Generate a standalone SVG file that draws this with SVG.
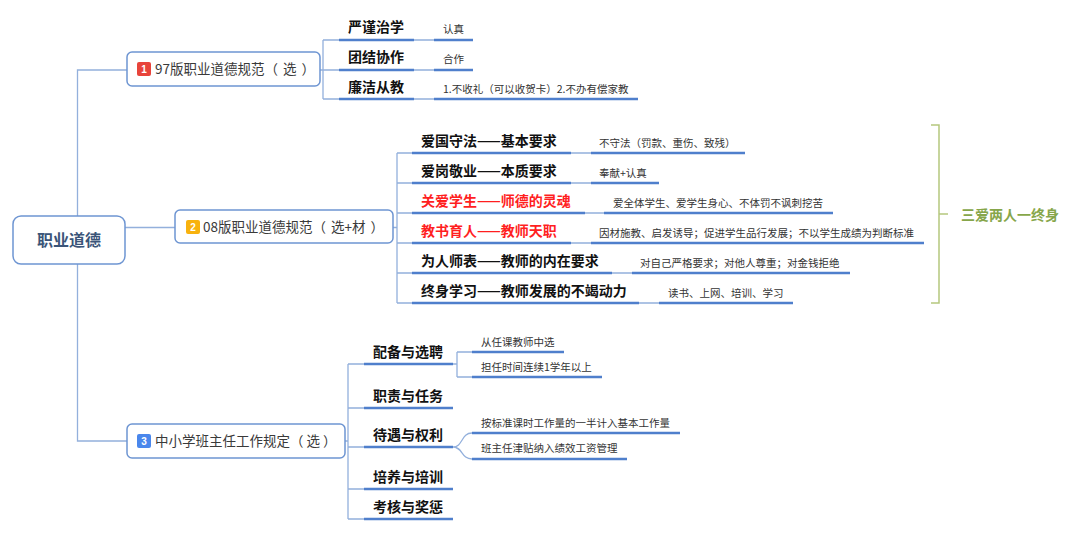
<svg xmlns="http://www.w3.org/2000/svg" width="1080" height="533" viewBox="0 0 1080 533">
<style>
.bg{fill:#fff}
.conn{fill:none;stroke:#93b0dc;stroke-width:1.3}
.ul{fill:none;stroke:#4f7fcc;stroke-width:2.5}
.box{fill:#fff;stroke:#6e95d2;stroke-width:1.5}
.root{font-family:"Noto Sans CJK SC",sans-serif;font-size:16px;font-weight:bold;fill:#3b5579}
.main{font-family:"Noto Sans CJK SC",sans-serif;font-size:13.5px;fill:#3a3a3a}
.sub{font-family:"Noto Sans CJK SC",sans-serif;font-size:14px;font-weight:bold;fill:#111}
.red{fill:#ff1f1f}
.det{font-family:"Noto Sans CJK SC",sans-serif;font-size:10.5px;fill:#333}
.badge{font-family:"Liberation Sans",sans-serif;font-size:10px;font-weight:bold;fill:#fff;text-anchor:middle}
.green{fill:none;stroke:#b5c77e;stroke-width:1.5}
.gtext{font-family:"Noto Sans CJK SC",sans-serif;font-size:14px;font-weight:bold;fill:#86a64a}
</style>
<rect class="bg" x="0" y="0" width="1080" height="533"/>
<g id="connectors">
<path class="conn" d="M127 70H77.5V216M77.5 264V441H127M125 227.5H175"/>
<path class="conn" d="M320 70H323M323 40V99M323 40H340M323 70H340M323 99H340"/>
<path class="conn" d="M393 227.5H397M397 153V303M397 153H412M397 183H412M397 213H412M397 243H412M397 273H412M397 303H412"/>
<path class="conn" d="M345 441H348M348 364V519M348 364H364M348 408H364M348 447H364M348 489H364M348 519H364"/>
<path class="conn" d="M414 40H434M414 70H434M414 99H434"/>
<path class="conn" d="M571 153H591M571 183H591M585 213H604M571 243H591M612 273H632M639 303H659"/>
<path class="conn" d="M453 364H457M457 352V377M457 352H472M457 377H472"/>
<path class="conn" d="M453 447C463 447 461 433 472 433M453 447C463 447 461 459 472 459"/>
<path class="green" d="M931 125H939V303H931M939 214H948"/>
</g>
<g id="root">
<rect class="box" x="13" y="216" width="112" height="48" rx="8"/>
<text class="root" x="69" y="246" text-anchor="middle">职业道德</text>
</g>
<g id="n1">
<rect class="box" x="127" y="52" width="193" height="34" rx="5"/>
<rect x="137" y="62" width="14" height="14" rx="2" fill="#e8443b"/>
<text class="badge" x="144" y="73">1</text>
<text class="main" x="155" y="74">97版职业道德规范（<tspan dx="5">选</tspan><tspan dx="5">）</tspan></text>
</g>
<g id="n2">
<rect class="box" x="175" y="210" width="218" height="33" rx="5"/>
<rect x="186" y="220" width="14" height="14" rx="2" fill="#f8b20e"/>
<text class="badge" x="193" y="231">2</text>
<text class="main" x="203" y="232">08版职业道德规范（<tspan dx="5">选+材</tspan><tspan dx="5">）</tspan></text>
</g>
<g id="n3">
<rect class="box" x="127" y="424" width="218" height="34" rx="5"/>
<rect x="137" y="434" width="14" height="14" rx="2" fill="#4a87ec"/>
<text class="badge" x="144" y="445">3</text>
<text class="main" x="155" y="446">中小学班主任工作规定（<tspan dx="3">选</tspan><tspan dx="3">）</tspan></text>
</g>
<g id="n1-children">
<path class="ul" d="M339 40H414M339 70H414M339 99H414M434 40H473M434 70H473M434 99H638"/>
<text class="sub" x="348" y="32">严谨治学</text>
<text class="sub" x="348" y="62">团结协作</text>
<text class="sub" x="348" y="92">廉洁从教</text>
<text class="det" x="443" y="33">认真</text>
<text class="det" x="443" y="63">合作</text>
<text class="det" x="443" y="93">1.不收礼（可以收贺卡）2.不办有偿家教</text>
</g>
<g id="n2-children">
<path class="ul" d="M412 153H571M412 183H571M412 213H585M412 243H571M412 273H612M412 303H639"/>
<path class="ul" d="M591 153H745M591 183H659M604 213H833M591 243H924M632 273H850M659 303H793"/>
<text class="sub" x="421" y="146">爱国守法——基本要求</text>
<text class="sub" x="421" y="176">爱岗敬业——本质要求</text>
<text class="sub red" x="421" y="206">关爱学生——师德的灵魂</text>
<text class="sub red" x="421" y="236">教书育人——教师天职</text>
<text class="sub" x="421" y="266">为人师表——教师的内在要求</text>
<text class="sub" x="421" y="296">终身学习——教师发展的不竭动力</text>
<text class="det" x="599" y="147">不守法（罚款、重伤、致残）</text>
<text class="det" x="599" y="177">奉献+认真</text>
<text class="det" x="613" y="207">爱全体学生、爱学生身心、不体罚不讽刺挖苦</text>
<text class="det" x="599" y="237">因材施教、启发诱导；促进学生品行发展；不以学生成绩为判断标准</text>
<text class="det" x="640" y="267">对自己严格要求；对他人尊重；对金钱拒绝</text>
<text class="det" x="668" y="297">读书、上网、培训、学习</text>
</g>
<g id="summary">
<text class="gtext" x="961" y="220">三爱两人一终身</text>
</g>
<g id="n3-children">
<path class="ul" d="M364 364H453M364 408H453M364 447H453M364 489H453M364 519H453"/>
<path class="ul" d="M472 352H564M472 377H602M472 433H680M472 459H627"/>
<text class="sub" x="373" y="357">配备与选聘</text>
<text class="sub" x="373" y="401">职责与任务</text>
<text class="sub" x="373" y="440">待遇与权利</text>
<text class="sub" x="373" y="482">培养与培训</text>
<text class="sub" x="373" y="512">考核与奖惩</text>
<text class="det" x="481" y="346">从任课教师中选</text>
<text class="det" x="481" y="371">担任时间连续1学年以上</text>
<text class="det" x="481" y="427">按标准课时工作量的一半计入基本工作量</text>
<text class="det" x="481" y="452">班主任津贴纳入绩效工资管理</text>
</g>
</svg>
